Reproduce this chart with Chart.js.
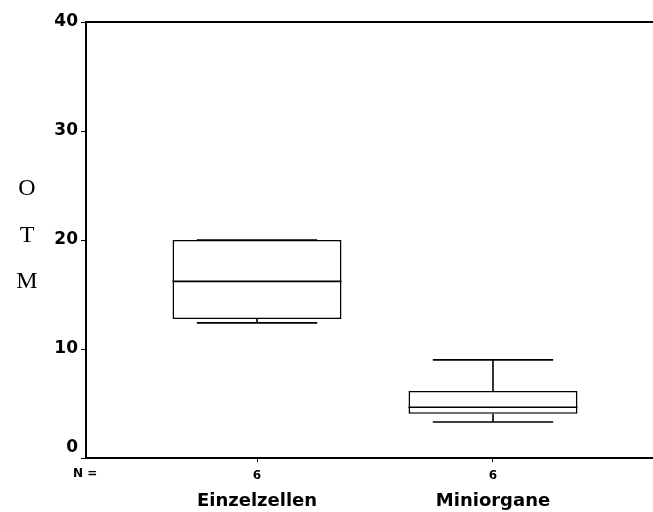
<!DOCTYPE html>
<html>
<head>
<meta charset="utf-8">
<script src="https://cdn.jsdelivr.net/npm/chart.js@4"></script>
<style>
  body { margin: 0; background: #fff; }
</style>
</head>
<body>
<canvas id="otmChart" width="653" height="512"></canvas>
<script>
// data
const groups = ["Einzelzellen", "Miniorgane"];
const nCounts = [6, 6];
const whiskerLow = [12.4, 3.3];
const q1 = [12.75, 4.05];
const median = [16.2, 4.65];
const q3 = [20.0, 6.15];
const whiskerHigh = [20.0, 9.0];
const yTicks = [0, 10, 20, 30, 40];
const yTitle = ["O", "T", "M"];

const boxData = groups.map((g, i) => ({ x: i + 1, y: [q1[i], q3[i]] }));

const boldFont = "'DejaVu Sans', Verdana, sans-serif";

// whiskers, medians, frame top and the extra labels
const boxExtras = {
  id: "boxExtras",
  afterDatasetsDraw(chart) {
    const ctx = chart.ctx;
    const xs = chart.scales.x;
    const ys = chart.scales.y;
    const meta = chart.getDatasetMeta(0);
    ctx.save();
    ctx.strokeStyle = "#000";
    ctx.lineWidth = 1.6;
    for (let i = 0; i < groups.length; i++) {
      const cx = xs.getPixelForValue(i + 1);
      const half = meta.data[i].width / 2;
      const capHalf = xs.getPixelForValue(i + 1.255) - cx;
      const yLo = ys.getPixelForValue(whiskerLow[i]);
      const yQ1 = ys.getPixelForValue(q1[i]);
      const yMed = ys.getPixelForValue(median[i]);
      const yQ3 = ys.getPixelForValue(q3[i]);
      const yHi = ys.getPixelForValue(whiskerHigh[i]);
      ctx.beginPath();
      ctx.moveTo(cx, yQ3); ctx.lineTo(cx, yHi);
      ctx.moveTo(cx, yQ1); ctx.lineTo(cx, yLo);
      ctx.moveTo(cx - capHalf, yHi); ctx.lineTo(cx + capHalf, yHi);
      ctx.moveTo(cx - capHalf, yLo); ctx.lineTo(cx + capHalf, yLo);
      ctx.moveTo(cx - half, yMed); ctx.lineTo(cx + half, yMed);
      ctx.stroke();
    }
    // top edge of the frame
    const area = chart.chartArea;
    ctx.lineWidth = 2;
    ctx.beginPath();
    ctx.moveTo(area.left, area.top);
    ctx.lineTo(area.right, area.top);
    ctx.stroke();

    // stacked y title
    ctx.fillStyle = "#000";
    ctx.font = "24px 'Liberation Serif', serif";
    ctx.textAlign = "center";
    ctx.textBaseline = "middle";
    yTitle.forEach((ch, k) => ctx.fillText(ch, 27, 189 + k * 46.5));

    // N = label
    ctx.font = "bold 12px " + boldFont;
    ctx.textAlign = "left";
    ctx.fillText("N =", 73, 474);
    ctx.restore();
  }
};

new Chart(document.getElementById("otmChart"), {
  type: "bar",
  plugins: [boxExtras],
  data: {
    datasets: [{
      data: boxData,
      backgroundColor: "#fff",
      borderColor: "#000",
      borderWidth: 1.6,
      borderSkipped: false,
      barPercentage: 0.716,
      categoryPercentage: 1.0
    }]
  },
  options: {
    responsive: false,
    animation: false,
    layout: { padding: { top: 22, right: 0, left: 0, bottom: 0 } },
    plugins: {
      legend: { display: false },
      tooltip: { enabled: false }
    },
    scales: {
      x: {
        type: "linear",
        position: "bottom",
        offset: false,
        min: 0.2754,
        max: 2.678,
        afterBuildTicks: (scale) => {
          scale.ticks = groups.map((g, i) => ({ value: i + 1 }));
        },
        afterFit: (scale) => { scale.height = 22; },
        grid: { drawOnChartArea: false, offset: false, tickLength: 4, color: "#000", lineWidth: 1 },
        border: { display: true, color: "#000", width: 2 },
        ticks: {
          color: "#000",
          padding: 7,
          maxRotation: 0,
          font: { family: boldFont, size: 12, weight: "bold" },
          callback: (value) => String(nCounts[value - 1])
        }
      },
      x2: {
        type: "linear",
        position: "bottom",
        offset: false,
        min: 0.2754,
        max: 2.678,
        afterBuildTicks: (scale) => {
          scale.ticks = groups.map((g, i) => ({ value: i + 1 }));
        },
        afterFit: (scale) => { scale.height = 32; },
        grid: { display: false, offset: false },
        border: { display: false },
        ticks: {
          color: "#000",
          padding: 3,
          maxRotation: 0,
          font: { family: boldFont, size: 18, weight: "bold" },
          callback: (value) => groups[value - 1]
        }
      },
      y: {
        min: 0,
        max: 40,
        afterBuildTicks: (scale) => {
          scale.ticks = yTicks.map(v => ({ value: v }));
        },
        afterFit: (scale) => { scale.width = 86; },
        grid: { drawOnChartArea: false, tickLength: 5, color: "#000", lineWidth: 1 },
        border: { display: true, color: "#000", width: 2 },
        ticks: {
          color: "#000",
          padding: 3,
          font: { family: boldFont, size: 17, weight: "bold" },
          // the zero label sits a little above its tick in the original
          callback: (value) => value === 0 ? ["0", ""] : String(value)
        }
      }
    }
  }
});
</script>
</body>
</html>
